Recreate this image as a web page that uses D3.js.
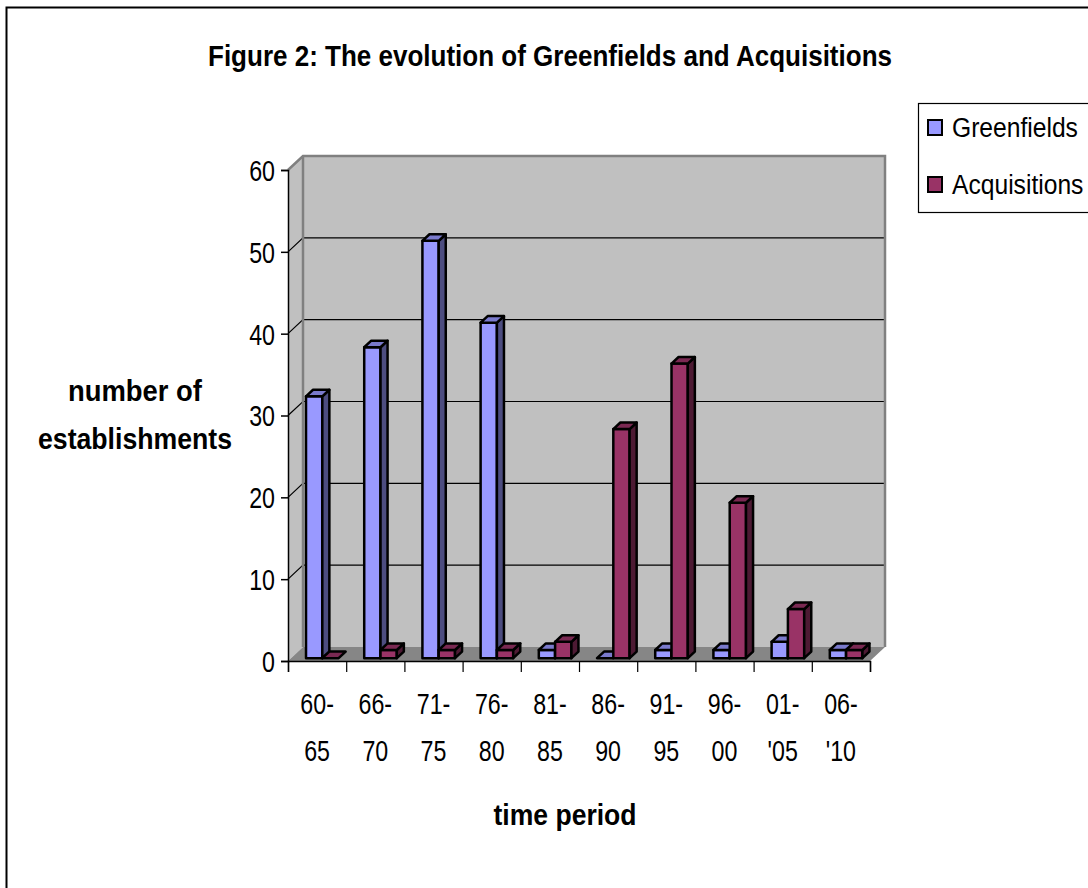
<!DOCTYPE html>
<html>
<head>
<meta charset="utf-8">
<script src="https://cdn.jsdelivr.net/npm/d3@7"></script>
<style>
  html, body { margin: 0; padding: 0; background: #fff; }
  svg { display: block; font-family: "Liberation Sans", Arial, sans-serif; }
</style>
</head>
<body>
<svg id="chart" width="1088" height="888"></svg>
<script>
// ---- data ----
const periods = [["60-", "65"], ["66-", "70"], ["71-", "75"], ["76-", "80"], ["81-", "85"],
                 ["86-", "90"], ["91-", "95"], ["96-", "00"], ["01-", "'05"], ["06-", "'10"]];
const greenfields  = [32, 38, 51, 41, 1, 0, 1, 1, 2, 1];
const acquisitions = [0, 1, 1, 1, 2, 28, 36, 19, 6, 1];
const seriesNames = ["Greenfields", "Acquisitions"];
const yTicks = [0, 10, 20, 30, 40, 50, 60];

// ---- colours for the three visible faces of each column ----
const faces = [
  { front: "#9999ff", top: "#7a7acc", side: "#4d4d80" },
  { front: "#993366", top: "#7a2952", side: "#4d1a33" }
];

const svg = d3.select("#chart");

// front plane of the plot box and its depth offset
const X0 = 288, X1 = 870, Y0 = 661, Ytop = 170;
const DX = 15, DY = -14;

const x = d3.scaleLinear().domain([0, periods.length]).range([X0, X1]);
const y = d3.scaleLinear().domain([0, 60]).range([Y0, Ytop]);
// point at value v, horizontal position px (front plane), depth fraction d
const P = (px, v, d) => [px + DX * d, y(v) + DY * d];
const pts = arr => arr.map(p => p.join(",")).join(" ");

// outer chart frame
svg.append("rect").attr("x", 6.5).attr("y", 7.5).attr("width", 1100).attr("height", 900)
  .attr("fill", "none").attr("stroke", "#000").attr("stroke-width", 2);

// ---- walls and floor ----
const wallFill = "#c0c0c0", wallEdge = "#808080";
// left side wall
svg.append("polygon")
  .attr("points", pts([P(X0, 0, 0), P(X0, 60, 0), P(X0, 60, 1), P(X0, 0, 1)]))
  .attr("fill", wallFill);
// back wall
svg.append("polygon")
  .attr("points", pts([P(X0, 0, 1), P(X0, 60, 1), P(X1, 60, 1), P(X1, 0, 1)]))
  .attr("fill", wallFill);
// floor
svg.append("polygon")
  .attr("points", pts([P(X0, 0, 0), P(X1, 0, 0), P(X1, 0, 1), P(X0, 0, 1)]))
  .attr("fill", "#868686");

// gridlines: across the back wall and down the left wall
const grid = svg.append("g");
yTicks.filter(t => t > 0 && t < 60).forEach(t => {
  grid.append("polyline")
    .attr("points", pts([P(X0, t, 0), P(X0, t, 1), P(X1, t, 1)]))
    .attr("fill", "none").attr("stroke", "#000").attr("stroke-width", 1.2);
});
// wall edges
svg.append("polyline")
  .attr("points", pts([P(X0, 60, 0), P(X0, 60, 1), P(X1, 60, 1), P(X1, 0, 1)]))
  .attr("fill", "none").attr("stroke", wallEdge).attr("stroke-width", 2.5);
svg.append("line")
  .attr("x1", P(X0, 0, 1)[0]).attr("y1", P(X0, 0, 1)[1])
  .attr("x2", P(X0, 60, 1)[0]).attr("y2", P(X0, 60, 1)[1])
  .attr("stroke", wallEdge).attr("stroke-width", 2.5);

// ---- 3D columns ----
const catW = x(1) - x(0);
const barW = catW * 0.28, groupOff = catW * 0.258;
const dFront = 0.2, dBack = 0.67;
const bars = svg.append("g").attr("stroke", "#000").attr("stroke-width", 2.5).attr("stroke-linejoin", "round");
periods.forEach((p, i) => {
  [greenfields, acquisitions].forEach((vals, s) => {
    const v = vals[i];
    const xl = x(i) + groupOff + s * barW, xr = xl + barW;
    const c = faces[s];
    const g = bars.append("g");
    if (v > 0) {
      g.append("polygon").attr("fill", c.front)
        .attr("points", pts([P(xl, 0, dFront), P(xr, 0, dFront), P(xr, v, dFront), P(xl, v, dFront)]));
      g.append("polygon").attr("fill", c.side)
        .attr("points", pts([P(xr, 0, dFront), P(xr, 0, dBack), P(xr, v, dBack), P(xr, v, dFront)]));
    }
    g.append("polygon").attr("fill", c.top)
      .attr("points", pts([P(xl, v, dFront), P(xr, v, dFront), P(xr, v, dBack), P(xl, v, dBack)]));
  });
});

// ---- axes ----
const yAxis = svg.append("g").attr("transform", `translate(${X0},0)`)
  .call(d3.axisLeft(y).tickValues(yTicks).tickSize(7).tickPadding(8));
yAxis.select(".domain").attr("stroke", "#000").attr("stroke-width", 1.5);
yAxis.selectAll(".tick line").attr("stroke", "#000").attr("stroke-width", 1.5);
yAxis.selectAll(".tick text")
  .attr("font-size", 29).attr("fill", "#000").attr("font-family", "Liberation Sans, Arial, sans-serif")
  .attr("transform", "scale(0.8,1)").attr("x", -13 / 0.8).attr("dy", "0.36em");

const xAxis = svg.append("g").attr("transform", `translate(0,${Y0})`)
  .call(d3.axisBottom(x).tickValues(d3.range(0, periods.length + 1)).tickSize(11).tickFormat(""));
xAxis.select(".domain").attr("stroke", "#000").attr("stroke-width", 1.5);
xAxis.selectAll(".tick line").attr("stroke", "#000").attr("stroke-width", 1.2);

const catLabels = svg.append("g").attr("font-size", 29).attr("fill", "#000").attr("text-anchor", "middle");
periods.forEach((p, i) => {
  const cx = x(i + 0.5);
  p.forEach((line, k) => {
    catLabels.append("text")
      .attr("transform", `translate(${cx},${714 + k * 47}) scale(0.8,1)`)
      .text(line);
  });
});

// ---- titles ----
svg.append("text").attr("x", 550).attr("y", 66).attr("text-anchor", "middle")
  .attr("font-size", 29).attr("font-weight", "bold")
  .attr("textLength", 684).attr("lengthAdjust", "spacingAndGlyphs")
  .text("Figure 2: The evolution of Greenfields and Acquisitions");

const yTitle = svg.append("g").attr("font-size", 29).attr("font-weight", "bold").attr("text-anchor", "middle");
yTitle.append("text").attr("x", 135).attr("y", 401)
  .attr("textLength", 134).attr("lengthAdjust", "spacingAndGlyphs").text("number of");
yTitle.append("text").attr("x", 135).attr("y", 449)
  .attr("textLength", 194).attr("lengthAdjust", "spacingAndGlyphs").text("establishments");

svg.append("text").attr("x", 565).attr("y", 825).attr("text-anchor", "middle")
  .attr("font-size", 29).attr("font-weight", "bold")
  .attr("textLength", 143).attr("lengthAdjust", "spacingAndGlyphs").text("time period");

// ---- legend ----
const legend = svg.append("g");
legend.append("rect").attr("x", 918.5).attr("y", 103.5).attr("width", 200).attr("height", 109)
  .attr("fill", "#fff").attr("stroke", "#000").attr("stroke-width", 1.2);
seriesNames.forEach((name, i) => {
  const yy = 120 + i * 57;
  legend.append("rect").attr("x", 928).attr("y", yy).attr("width", 14).attr("height", 15)
    .attr("fill", faces[i].front).attr("stroke", "#000").attr("stroke-width", 2);
  legend.append("text").attr("transform", `translate(952,${yy + 17}) scale(0.88,1)`)
    .attr("font-size", 28).attr("fill", "#000").text(name);
});
</script>
</body>
</html>
